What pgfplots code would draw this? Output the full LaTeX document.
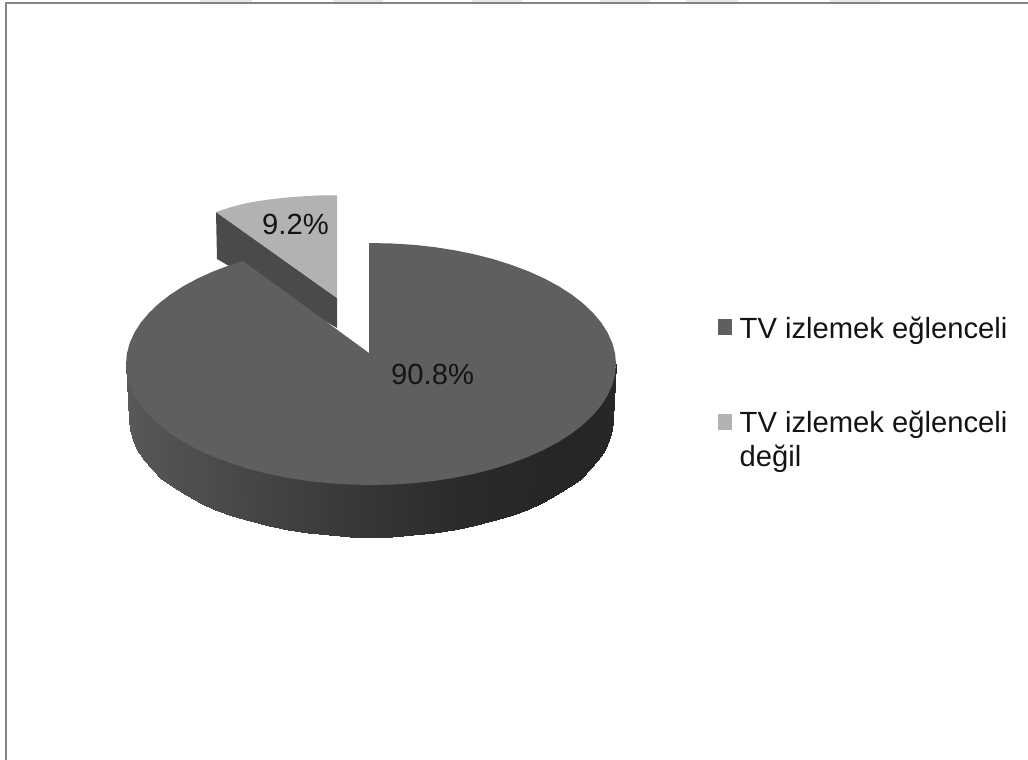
\documentclass[border=0pt]{standalone}
\usepackage{fontspec}
\setmainfont{Liberation Sans}
\usepackage{pgfplots}
\pgfplotsset{compat=1.18}
\definecolor{mainTop}{HTML}{5F5F5F}
\definecolor{minorTop}{HTML}{B2B2B2}
\definecolor{minorWall}{HTML}{4A4A4A}
\definecolor{frameGrey}{HTML}{848484}
\definecolor{tabGrey}{HTML}{E6E6E6}
\tikzset{lbl/.style={anchor=base west, inner sep=0pt, text=black!92, font=\fontsize{29.2bp}{34bp}\selectfont}}
\begin{document}
\begin{tikzpicture}
\begin{axis}[
  scale only axis, width=1028bp, height=760bp,
  at={(0pt,0pt)}, anchor=south west,
  xmin=0, xmax=1028, ymin=0, ymax=760, y dir=reverse,
  hide axis,
  colormap={bw}{gray(0cm)=(0); gray(1cm)=(1)},
  point meta min=0, point meta max=1,
]
% slide frame and the faint tabs above it
\addplot[draw=none, fill=tabGrey] coordinates {(200,0)(252,0)(252,2)(200,2)} -- cycle;
\addplot[draw=none, fill=tabGrey] coordinates {(333,0)(383,0)(383,2)(333,2)} -- cycle;
\addplot[draw=none, fill=tabGrey] coordinates {(472,0)(522,0)(522,2)(472,2)} -- cycle;
\addplot[draw=none, fill=tabGrey] coordinates {(600,0)(650,0)(650,2)(600,2)} -- cycle;
\addplot[draw=none, fill=tabGrey] coordinates {(686,0)(738,0)(738,2)(686,2)} -- cycle;
\addplot[draw=none, fill=tabGrey] coordinates {(830,0)(880,0)(880,2)(830,2)} -- cycle;
\addplot[frameGrey, line width=2bp] coordinates {(6,760)(6,2.7)(1028,2.7)};

% exploded slice, 9.2 %
\addplot[draw=none, fill=minorWall] coordinates {(216,212)(217,259)(337,328)(337,298)} -- cycle;
\addplot[draw=none, fill=minorTop] coordinates {
  (337,195.3)(322,195.3)(307,196)(290,197.2)(273,199)(260,200.8)(247,203)(233,206.5)(216,212)(337,298)
} -- cycle;

% outer wall of the large slice, grey level in the third column;
% its upper row runs a little under the top face so that no seam shows
\addplot[surf, shader=interp, mesh/rows=2, mesh/cols=37, point meta=\thisrow{g}] table {
x y g
126 364 .35
127.5 370 .35
130.5 380 .345
135.4 390.3 .34
141.8 400.4 .335
150 410.1 .33
159.8 419.5 .325
171.3 428.4 .315
184.3 436.8 .31
198.8 444.6 .305
214.5 451.7 .295
231.5 458.1 .285
248.5 463.8 .275
267.5 468.7 .265
287.2 472.7 .255
307.6 475.9 .245
328.5 478.2 .23
349.6 479.5 .22
371 480 .21
392.4 479.5 .20
413.5 478.2 .19
434.4 475.9 .18
454.8 472.7 .17
474.5 468.7 .165
493.5 463.8 .16
510.5 458.1 .155
527.5 451.7 .155
543.2 444.6 .15
557.7 436.8 .15
570.7 428.4 .15
582.2 419.5 .15
592 410.1 .15
600.2 400.4 .15
606.6 390.3 .155
611.3 380 .155
614.5 370 .155
616 364 .155
129 420 .35
129.9 430.2 .35
132.7 440.3 .345
137.2 450.3 .34
143.6 460 .335
151.7 469.4 .33
161.4 478.5 .325
172.8 487.1 .315
185.6 495.2 .31
199.9 502.7 .305
215.4 509.6 .295
232.2 515.8 .285
250 521.3 .275
268.7 526 .265
288.2 529.9 .255
308.4 533 .245
329 535.2 .23
349.9 536.6 .22
371 537 .21
392.1 536.6 .20
413 535.2 .19
433.6 533 .18
453.8 529.9 .17
473.3 526 .165
492 521.3 .16
509.8 515.8 .155
526.6 509.6 .155
542.1 502.7 .15
556.4 495.2 .15
569.2 487.1 .15
580.6 478.5 .15
590.3 469.4 .15
598.4 460 .15
604.8 450.3 .15
609.3 440.3 .155
612.1 430.2 .155
613 420 .155
};

% top face of the large slice, 90.8 %
\addplot[draw=none, fill=mainTop] coordinates {
  (369,353)(369,243)(392.4,243.5)(413.5,244.8)(434.4,247.1)(454.8,250.3)(474.5,254.3)(493.5,259.2)
  (511.5,264.9)(528.5,271.3)(544.2,278.4)(558.7,286.2)(571.7,294.6)(583.2,303.5)(593,312.9)
  (601.2,322.6)(607.6,332.7)(612.3,343)(615.1,353.5)(616,364)
  (615.1,374.5)(612.3,385)(607.6,395.3)(601.2,405.4)(593,415.1)(583.2,424.5)(571.7,433.4)
  (558.7,441.8)(544.2,449.6)(528.5,456.7)(511.5,463.1)(493.5,468.8)(474.5,473.7)(454.8,477.7)
  (434.4,480.9)(413.5,483.2)(392.4,484.5)(371,485)
  (349.6,484.5)(328.5,483.2)(307.6,480.9)(287.2,477.7)(267.5,473.7)(248.5,468.8)(230.5,463.1)
  (213.5,456.7)(197.8,449.6)(183.3,441.8)(170.3,433.4)(158.8,424.5)(149,415.1)(140.8,405.4)
  (134.4,395.3)(129.7,385)(126.9,374.5)(126,364)
  (126.9,353.5)(129.7,343)(134.4,332.7)(140.8,322.6)(149,312.9)(158.8,303.5)(170.3,294.6)
  (183.3,286.2)(197.8,278.4)(213.5,271.3)(230.5,264.9)(243,261)
} -- cycle;

% value labels
\node[lbl] at (axis cs:262,234) {9.2\%};
\node[lbl] at (axis cs:391,384) {90.8\%};

% legend
\addplot[draw=none, fill=mainTop] coordinates {(718,319)(732,319)(732,335)(718,335)} -- cycle;
\addplot[draw=none, fill=minorTop] coordinates {(718,414)(732,414)(732,430)(718,430)} -- cycle;
\node[lbl] at (axis cs:739.5,338) {TV izlemek eğlenceli};
\node[lbl] at (axis cs:739.5,432) {TV izlemek eğlenceli};
\node[lbl] at (axis cs:739.5,466) {değil};
\end{axis}
\pgfresetboundingbox
\path[use as bounding box] (0,0) rectangle (1028bp,760bp);
\end{tikzpicture}
\end{document}
